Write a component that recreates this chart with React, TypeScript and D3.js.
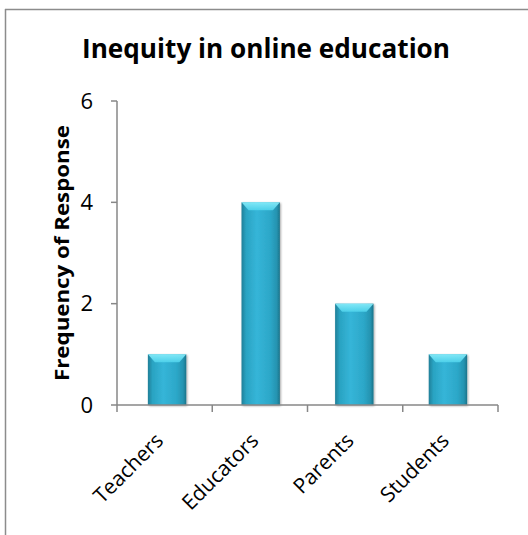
import React from "react";
import * as d3 from "d3";

const categories = ["Teachers", "Educators", "Parents", "Students"];
const values = [1, 4, 2, 1];
const yTicks = [0, 2, 4, 6];
const title = "Inequity in online education";
const yTitle = "Frequency of Response";

const W = 528, H = 535;
const plot = { left: 117, right: 498, top: 101, bottom: 405 };
const FONT = "'Open Sans', sans-serif";

export default function App() {
  const x = d3.scaleBand<string>().domain(categories).range([plot.left, plot.right]).paddingInner(0.59).paddingOuter(0.33);
  const xb = d3.scaleBand<string>().domain(categories).range([plot.left, plot.right]);
  const y = d3.scaleLinear().domain([0, 6]).range([plot.bottom, plot.top]);
  const axisColor = "#878787";
  const bw = x.bandwidth();
  return (
    <svg width={W} height={H} style={{ position: "absolute", left: 0, top: 0, background: "#fff" }}>
      <defs>
        <linearGradient id="barg" x1="0" x2="1" y1="0" y2="0">
          <stop offset="0" stopColor="#1f7f98" />
          <stop offset="0.12" stopColor="#2aa3c2" />
          <stop offset="0.4" stopColor="#35b5d8" />
          <stop offset="0.75" stopColor="#2ca7c8" />
          <stop offset="0.92" stopColor="#2593b0" />
          <stop offset="1" stopColor="#1b7389" />
        </linearGradient>
        <linearGradient id="capg" x1="0" x2="0" y1="0" y2="1">
          <stop offset="0" stopColor="#8aeefb" />
          <stop offset="1" stopColor="#4fd3ec" />
        </linearGradient>
        <filter id="sh" x="-20%" y="-10%" width="140%" height="120%">
          <feGaussianBlur in="SourceAlpha" stdDeviation="1.2" />
          <feOffset dx="0.5" dy="0.5" />
          <feComponentTransfer><feFuncA type="linear" slope="0.35" /></feComponentTransfer>
          <feMerge><feMergeNode /><feMergeNode in="SourceGraphic" /></feMerge>
        </filter>
      </defs>
      <line x1={5.5} y1={9} x2={5.5} y2={H} stroke="#8c8c8c" strokeWidth={1.5} />
      <line x1={5} y1={9.5} x2={W} y2={9.5} stroke="#8c8c8c" strokeWidth={1.5} />
      <text x={266} y={58} textAnchor="middle" fontFamily={FONT} fontWeight="bold" fontSize={26} textLength={368} lengthAdjust="spacingAndGlyphs" fill="#000">{title}</text>
      <text transform={`translate(69,253) rotate(-90)`} textAnchor="middle" fontFamily={FONT} fontWeight="bold" fontSize={20} textLength={256} lengthAdjust="spacingAndGlyphs" fill="#000">{yTitle}</text>
      {categories.map((c, i) => {
        const bx = x(c)!;
        const by = y(values[i]);
        const bh = y(0) - by;
        return (
          <g key={c} filter="url(#sh)">
            <rect x={bx} y={by} width={bw} height={bh} fill="url(#barg)" />
            <path d={`M${bx},${by} L${bx + bw},${by} L${bx + bw - 7},${by + 8} L${bx + 7},${by + 8} Z`} fill="url(#capg)" opacity={0.9} />
          </g>
        );
      })}
      <line x1={plot.left} y1={plot.top} x2={plot.left} y2={plot.bottom} stroke={axisColor} strokeWidth={1.5} />
      <line x1={plot.left} y1={plot.bottom} x2={plot.right} y2={plot.bottom} stroke={axisColor} strokeWidth={1.5} />
      {yTicks.map(t => (
        <g key={t}>
          <line x1={plot.left - 6} x2={plot.left} y1={y(t)} y2={y(t)} stroke={axisColor} strokeWidth={1.5} />
          <text x={plot.left - 24} y={y(t) + 7.5} textAnchor="end" fontFamily={FONT} fontSize={22} fill="#000">{t}</text>
        </g>
      ))}
      {[...categories.map(c => xb(c)!), plot.right].map((tx, i) => (
        <line key={i} x1={tx} x2={tx} y1={plot.bottom} y2={plot.bottom + 7} stroke={axisColor} strokeWidth={1.5} />
      ))}
      {categories.map(c => {
        const cx = xb(c)! + xb.bandwidth() / 2;
        return (
          <text key={c} transform={`translate(${cx},${plot.bottom + 37}) rotate(-45)`} textAnchor="end" fontFamily={FONT} fontSize={21} fill="#000">{c}</text>
        );
      })}
    </svg>
  );
}
